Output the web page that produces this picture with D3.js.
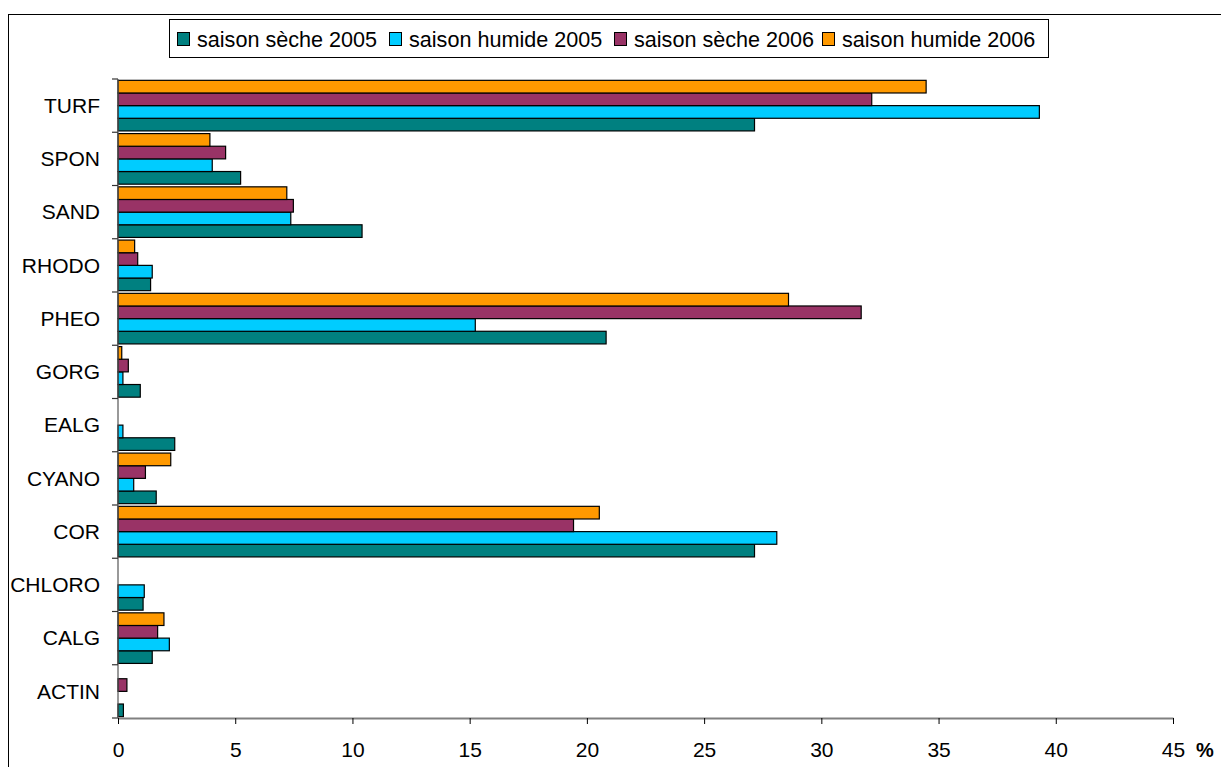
<!DOCTYPE html>
<html>
<head>
<meta charset="utf-8">
<script src="https://cdn.jsdelivr.net/npm/d3@7"></script>
<style>
  html, body { margin: 0; padding: 0; background: #fff; }
  svg { display: block; font-family: "Liberation Sans", Arial, sans-serif; }
</style>
</head>
<body>
<svg id="chart" width="1221" height="767"></svg>
<script>
// Substrate categories, top to bottom
const categories = ["TURF", "SPON", "SAND", "RHODO", "PHEO", "GORG", "EALG", "CYANO", "COR", "CHLORO", "CALG", "ACTIN"];

// Series names (legend order)
const seriesNames = ["saison sèche 2005", "saison humide 2005", "saison sèche 2006", "saison humide 2006"];
const seriesColors = ["#008080", "#00CCFF", "#993366", "#FF9900"];

// Cover (%) per category, one array per series
const seche2005  = [27.15, 5.23, 10.41, 1.39, 20.82, 0.95, 2.42, 1.63, 27.15, 1.07, 1.46, 0.23];
const humide2005 = [39.3, 4.02, 7.37, 1.46, 15.24, 0.21, 0.21, 0.67, 28.1, 1.12, 2.19, 0];
const seche2006  = [32.15, 4.59, 7.48, 0.84, 31.7, 0.44, 0, 1.17, 19.43, 0, 1.69, 0.38];
const humide2006 = [34.47, 3.92, 7.2, 0.71, 28.6, 0.16, 0, 2.25, 20.53, 0, 1.96, 0];

const xTicks = [0, 5, 10, 15, 20, 25, 30, 35, 40, 45];

const seriesValues = [seche2005, humide2005, seche2006, humide2006];

const svg = d3.select("#chart");

// Chart frame
svg.append("rect")
  .attr("x", 8.5).attr("y", 14.5)
  .attr("width", 1300).attr("height", 900)
  .attr("fill", "#fff").attr("stroke", "#000").attr("stroke-width", 1);

const plot = { left: 118, right: 1173, top: 79, bottom: 718 };

const x = d3.scaleLinear().domain([0, 45]).range([plot.left, plot.right]);
const y = d3.scaleBand().domain(categories).range([plot.top, plot.bottom]).paddingInner(0.05).paddingOuter(0.025);
// Within a category, series are stacked from bottom (first) to top (last)
const ySub = d3.scaleBand().domain([3, 2, 1, 0]).range([0, y.bandwidth()]);

// Bars
const g = svg.append("g");
categories.forEach((cat, ci) => {
  seriesValues.forEach((vals, si) => {
    const v = vals[ci];
    if (v <= 0) return;
    g.append("rect")
      .attr("x", x(0))
      .attr("y", y(cat) + ySub(si))
      .attr("width", x(v) - x(0))
      .attr("height", ySub.bandwidth())
      .attr("fill", seriesColors[si])
      .attr("stroke", "#000")
      .attr("stroke-width", 1.2);
  });
});

// Y axis: line and ticks at category boundaries
const yAxisG = svg.append("g");
yAxisG.append("line")
  .attr("x1", plot.left).attr("x2", plot.left)
  .attr("y1", plot.top).attr("y2", plot.bottom)
  .attr("stroke", "#555").attr("stroke-width", 1.2);
const step = (plot.bottom - plot.top) / categories.length;
d3.range(categories.length + 1).forEach(i => {
  yAxisG.append("line")
    .attr("x1", plot.left - 6).attr("x2", plot.left)
    .attr("y1", plot.top + i * step).attr("y2", plot.top + i * step)
    .attr("stroke", "#333").attr("stroke-width", 1.2);
});
categories.forEach((cat, i) => {
  yAxisG.append("text")
    .attr("x", 100)
    .attr("y", plot.top + (i + 0.5) * step)
    .attr("dy", "0.35em")
    .attr("text-anchor", "end")
    .attr("font-size", 21)
    .attr("fill", "#000")
    .text(cat);
});

// X axis
const xAxis = d3.axisBottom(x).tickValues(xTicks).tickSize(6).tickSizeOuter(0).tickPadding(18);
const xAxisG = svg.append("g")
  .attr("transform", `translate(0,${plot.bottom})`)
  .call(xAxis);
xAxisG.select(".domain").attr("stroke", "#808080").attr("stroke-width", 2);
xAxisG.selectAll(".tick line").attr("stroke", "#000");
xAxisG.selectAll(".tick text")
  .attr("font-size", 21)
  .attr("font-family", "Liberation Sans, Arial, sans-serif")
  .attr("fill", "#000");

svg.append("text")
  .attr("x", 1196).attr("y", 757)
  .attr("font-size", 20).attr("font-weight", "bold")
  .text("%");

// Legend
const legend = svg.append("g");
legend.append("rect")
  .attr("x", 169.5).attr("y", 19.5)
  .attr("width", 879).attr("height", 38)
  .attr("fill", "#fff").attr("stroke", "#000").attr("stroke-width", 1);
const legendX = [177, 389, 614, 822];
seriesNames.forEach((name, i) => {
  legend.append("rect")
    .attr("x", legendX[i] + 0.5).attr("y", 32.5)
    .attr("width", 12).attr("height", 13)
    .attr("fill", seriesColors[i]).attr("stroke", "#000").attr("stroke-width", 1);
  legend.append("text")
    .attr("x", legendX[i] + 20).attr("y", 39)
    .attr("dy", "0.35em")
    .attr("font-size", 21.6)
    .text(name);
});
</script>
</body>
</html>
